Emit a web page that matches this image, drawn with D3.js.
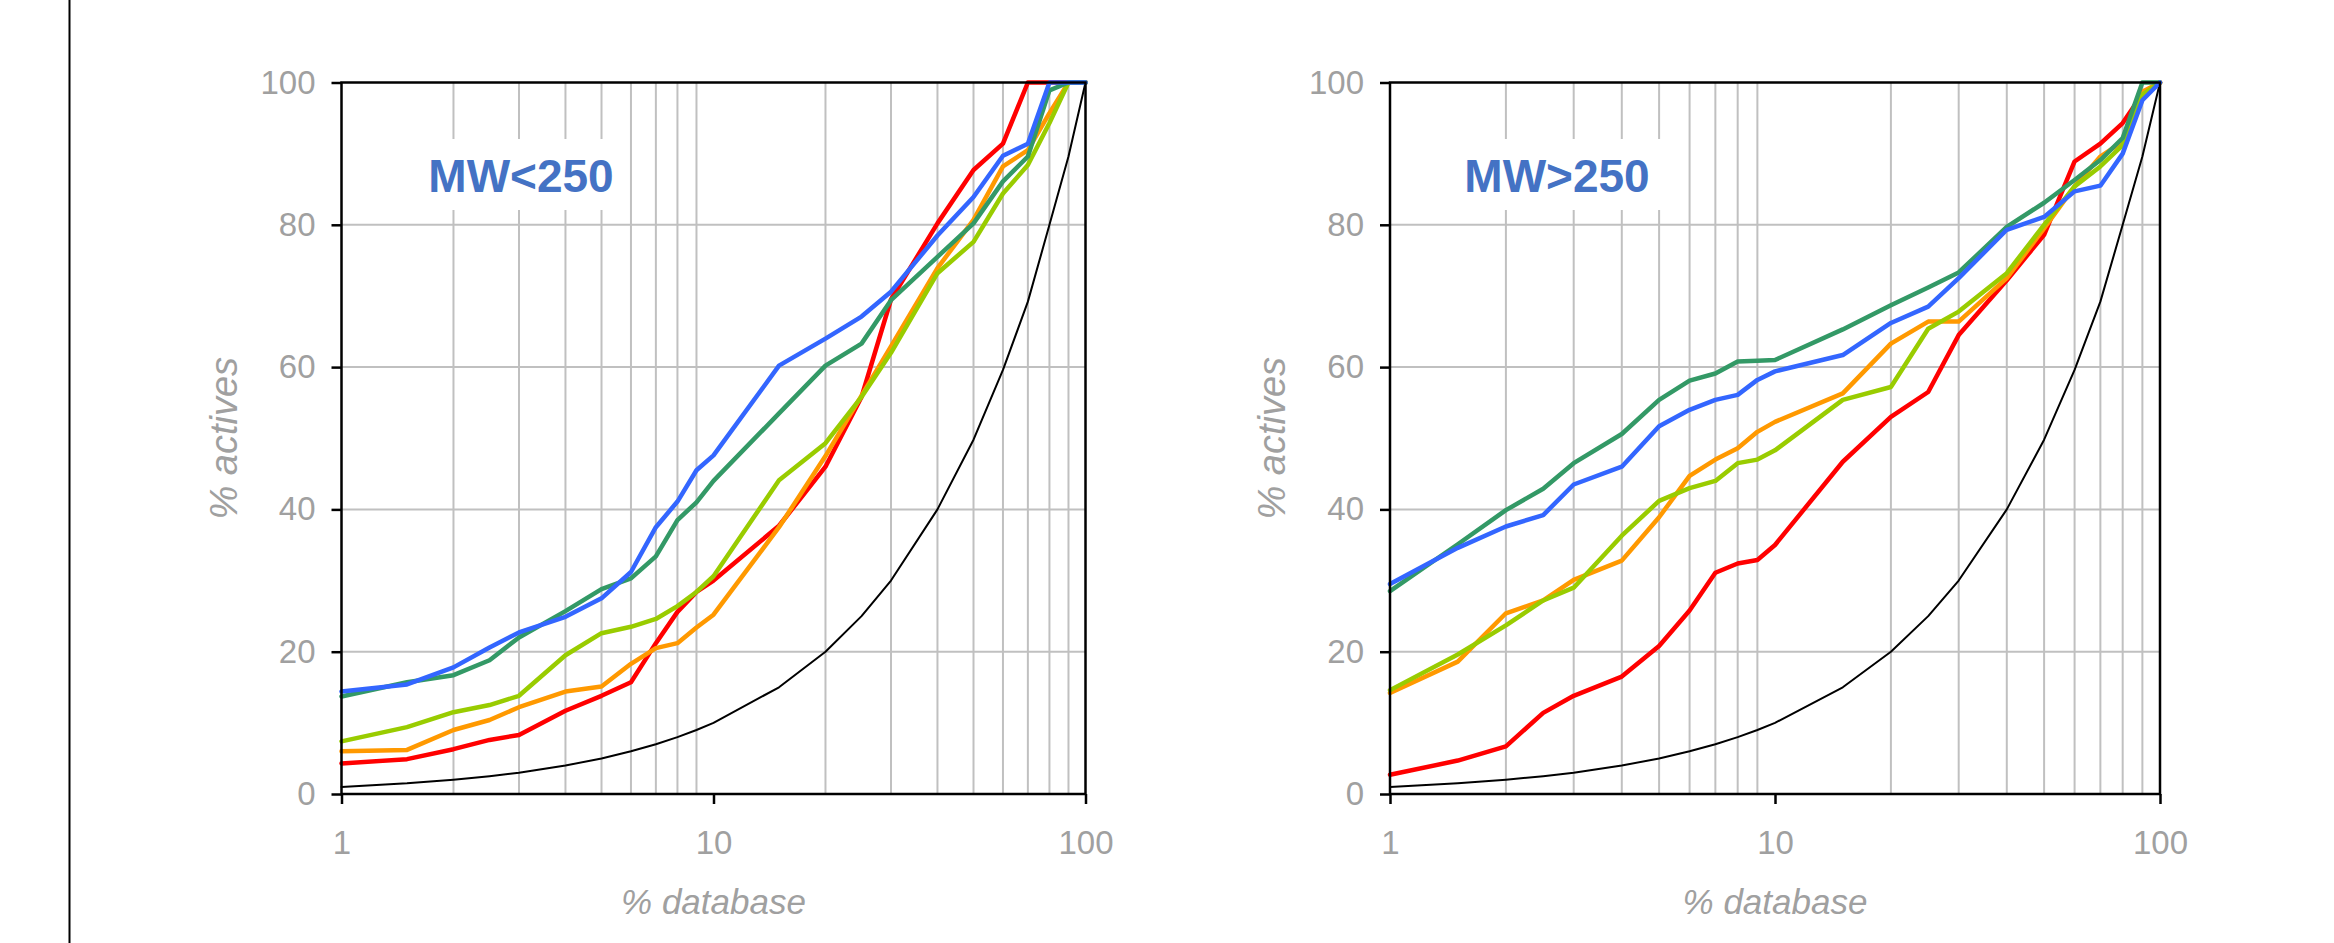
<!DOCTYPE html>
<html>
<head>
<meta charset="utf-8">
<script src="https://cdn.jsdelivr.net/npm/d3@7/dist/d3.min.js"></script>
<style>
  html, body { margin: 0; padding: 0; background: #ffffff; }
  svg { display: block; }
</style>
</head>
<body>
<svg id="chart" width="2334" height="943"></svg>
<script>
// ---------- data ----------
const xValues = [1, 1.5, 2, 2.5, 3, 4, 5, 6, 7, 8, 9, 10, 15, 20, 25, 30, 40, 50, 60, 70, 80, 90, 100];

const xTickValues = [1, 10, 100];
const yTickValues = [0, 20, 40, 60, 80, 100];
const xGridValues = [2, 3, 4, 5, 6, 7, 8, 9, 20, 30, 40, 50, 60, 70, 80, 90];
const yGridValues = [20, 40, 60, 80];

const panelTitles = ["MW<250", "MW>250"];
const xAxisTitle = "% database";
const yAxisTitle = "% actives";

// MW<250
const leftRandom = [1, 1.5, 2, 2.5, 3, 4, 5, 6, 7, 8, 9, 10, 15, 20, 25, 30, 40, 49.8, 59.6, 69.2, 80, 89.6, 100];
const leftRed    = [4.3, 4.9, 6.3, 7.6, 8.3, 11.7, 13.8, 15.7, 21.2, 25.6, 28.4, 30.0, 37.7, 46.0, 55.8, 69.5, 80.2, 87.7, 91.4, 100, 100, 100, 100];
const leftOrange = [6.0, 6.2, 9.0, 10.4, 12.2, 14.4, 15.1, 18.3, 20.5, 21.2, 23.4, 25.2, 37.5, 47.5, 56.0, 62.9, 73.9, 80.7, 88.2, 90.5, 95.7, 100, 100];
const leftLime   = [7.4, 9.4, 11.5, 12.5, 13.8, 19.5, 22.6, 23.5, 24.6, 26.4, 28.4, 30.6, 44.1, 49.3, 55.8, 62.0, 73.2, 77.6, 84.4, 88.4, 94.3, 100, 100];
const leftGreen  = [13.7, 15.7, 16.7, 18.8, 22.0, 25.7, 28.8, 30.3, 33.4, 38.5, 41.0, 44.0, 53.5, 60.2, 63.3, 69.4, 75.5, 80.2, 86.1, 89.6, 98.9, 100, 100];
const leftBlue   = [14.4, 15.4, 17.8, 20.6, 22.7, 24.9, 27.5, 31.2, 37.5, 41.1, 45.5, 47.6, 60.2, 64.0, 67.1, 70.6, 78.5, 83.9, 89.7, 91.4, 100, 100, 100];

// MW>250
const rightRandom = [1, 1.5, 2, 2.5, 3, 4, 5, 6, 7, 8, 9, 10, 15, 20, 25, 30, 40, 49.8, 59.6, 69.2, 80, 89.6, 100];
const rightRed    = [2.7, 4.7, 6.7, 11.4, 13.8, 16.5, 20.8, 25.8, 31.1, 32.4, 32.9, 35.0, 46.7, 53.0, 56.5, 64.5, 72.2, 78.6, 88.9, 91.4, 94.3, 98.4, 100];
const rightOrange = [14.2, 18.6, 25.4, 27.2, 30.1, 32.8, 38.9, 44.7, 47.0, 48.6, 50.9, 52.3, 56.3, 63.3, 66.4, 66.4, 72.5, 79.5, 85.4, 89.6, 91.7, 98.7, 100];
const rightLime   = [14.6, 19.6, 23.7, 27.2, 29.0, 36.3, 41.2, 43.0, 44.0, 46.5, 47.0, 48.3, 55.4, 57.2, 65.4, 67.8, 73.2, 80.0, 85.4, 88.2, 91.2, 98.3, 100];
const rightGreen  = [28.5, 35.1, 39.9, 42.9, 46.5, 50.6, 55.4, 58.1, 59.1, 60.8, 60.9, 61.0, 65.3, 68.7, 71.2, 73.3, 79.7, 83.1, 86.3, 89.1, 92.2, 100, 100];
const rightBlue   = [29.5, 34.6, 37.6, 39.2, 43.5, 46.0, 51.7, 54.0, 55.4, 56.1, 58.2, 59.4, 61.7, 66.2, 68.5, 72.5, 79.3, 81.1, 84.7, 85.5, 90.0, 97.5, 100];

const seriesColors = ["#000000", "#FF0000", "#FF9900", "#99CC00", "#339966", "#3366FF"];
const seriesWidths = [2, 4.5, 4.5, 4.5, 4.5, 4.5];

// ---------- drawing ----------
const svg = d3.select("#chart");
const FONT = "'Liberation Sans', Arial, sans-serif";
const GRAY = "#A0A0A0";

// left frame line
svg.append("line")
  .attr("x1", 69.5).attr("x2", 69.5).attr("y1", 0).attr("y2", 943)
  .attr("stroke", "#000").attr("stroke-width", 2);

const yScale = d3.scaleLinear().domain([0, 100]).range([794, 82.5]);

function drawPanel(xRange, seriesList, title, titleCenter) {
  const x = d3.scaleLog().domain([1, 100]).range(xRange);
  const y = yScale;
  const g = svg.append("g");
  const [x0, x1] = xRange;
  const [yb, yt] = y.range();

  // gridlines
  g.selectAll(".vg").data(xGridValues).enter().append("line")
    .attr("x1", d => x(d)).attr("x2", d => x(d))
    .attr("y1", yb).attr("y2", yt)
    .attr("stroke", "#C0C0C0").attr("stroke-width", 2);
  g.selectAll(".hg").data(yGridValues).enter().append("line")
    .attr("x1", x0).attr("x2", x1)
    .attr("y1", d => y(d)).attr("y2", d => y(d))
    .attr("stroke", "#C0C0C0").attr("stroke-width", 2);

  // title with white box
  const titleText = g.append("text")
    .attr("x", titleCenter)
    .attr("y", 192)
    .attr("text-anchor", "middle")
    .attr("font-family", FONT)
    .attr("font-weight", "bold")
    .attr("font-size", 46)
    .attr("fill", "#4472C4")
    .text(title);
  const bb = titleText.node().getBBox();
  g.insert("rect", "text")
    .attr("x", bb.x - 13).attr("width", bb.width + 26)
    .attr("y", 139).attr("height", 71)
    .attr("fill", "#fff");

  // series
  const line = d3.line().x(d => x(d[0])).y(d => y(d[1]));
  seriesList.forEach((vals, i) => {
    g.append("path")
      .datum(xValues.map((xv, k) => [xv, vals[k]]))
      .attr("d", line)
      .attr("fill", "none")
      .attr("stroke", seriesColors[i])
      .attr("stroke-width", seriesWidths[i])
      .attr("stroke-linejoin", "round")
      .attr("stroke-linecap", "round");
  });

  // plot border
  g.append("rect")
    .attr("x", x0).attr("y", yt)
    .attr("width", x1 - x0).attr("height", yb - yt)
    .attr("fill", "none").attr("stroke", "#000").attr("stroke-width", 2.5);

  // axes
  const yAxis = d3.axisLeft(y).tickValues(yTickValues).tickSize(10).tickPadding(16);
  const ya = g.append("g").attr("transform", `translate(${x0},0)`).call(yAxis);
  ya.select(".domain").remove();
  ya.selectAll(".tick line").attr("stroke", "#000").attr("stroke-width", 2.5);
  ya.selectAll(".tick text").attr("font-family", FONT).attr("font-size", 33).attr("fill", GRAY);

  const xAxis = d3.axisBottom(x).tickValues(xTickValues).tickFormat(d3.format("d")).tickSize(10).tickPadding(27);
  const xa = g.append("g").attr("transform", `translate(0,${yb})`).call(xAxis);
  xa.select(".domain").remove();
  xa.selectAll(".tick line").attr("stroke", "#000").attr("stroke-width", 2.5);
  xa.selectAll(".tick text").attr("font-family", FONT).attr("font-size", 33).attr("fill", GRAY);

  // axis titles
  g.append("text")
    .attr("x", (x0 + x1) / 2).attr("y", 914)
    .attr("text-anchor", "middle")
    .attr("font-family", FONT).attr("font-style", "italic")
    .attr("font-size", 35).attr("fill", GRAY)
    .text(xAxisTitle);
  g.append("text")
    .attr("transform", `translate(${x0 - 105},${(yb + yt) / 2}) rotate(-90)`)
    .attr("text-anchor", "middle")
    .attr("font-family", FONT).attr("font-style", "italic")
    .attr("font-size", 38).attr("fill", GRAY)
    .text(yAxisTitle);
}

drawPanel([341.5, 1085.5], [leftRandom, leftRed, leftOrange, leftLime, leftGreen, leftBlue], panelTitles[0], 521);
drawPanel([1390, 2160], [rightRandom, rightRed, rightOrange, rightLime, rightGreen, rightBlue], panelTitles[1], 1557);
</script>
</body>
</html>
